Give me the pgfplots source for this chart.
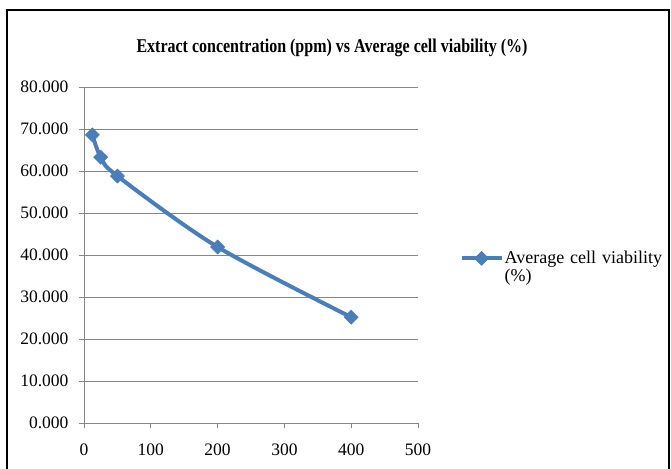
\documentclass[border=0pt]{standalone}
\usepackage{pgfplots}
\pgfplotsset{compat=1.18}
\usepackage{fontspec}
\setmainfont{Liberation Serif}
\newfontfamily\titlefont[FakeStretch=0.82]{Liberation Serif}
\definecolor{xlblue}{RGB}{74,126,187}
\definecolor{gridgray}{RGB}{134,134,134}
\begin{document}
\begin{tikzpicture}[x=1pt,y=1pt]
\useasboundingbox (0pt,0pt) rectangle (671pt,468pt);
\draw[black,line width=2pt] (7pt,-5pt) -- (7pt,458pt) -- (669pt,458pt) -- (669pt,-5pt);
\node[font=\titlefont\bfseries\fontsize{19.5}{21}\selectfont] at (332pt,420pt) {Extract concentration (ppm) vs Average cell viability (\%)};
\begin{axis}[
  at={(84pt,45pt)}, anchor=south west,
  scale only axis, width=334pt, height=336pt,
  xmin=0, xmax=500, ymin=0, ymax=80,
  xtick={0,100,...,500}, ytick={0,10,...,80},
  axis x line=bottom, axis y line=left,
  axis line style={-, gridgray, line width=0.8pt},
  tick style={gridgray, line width=0.8pt},
  tick align=outside, major tick length=5pt,
  ymajorgrids, grid style={gridgray, line width=0.8pt},
  tick label style={font=\fontsize{17.5}{19}\selectfont, black},
  /pgf/number format/assume math mode=true,
  yticklabel style={xshift=-7pt, /pgf/number format/.cd, fixed, fixed zerofill, precision=3, 1000 sep={}},
  xticklabel style={yshift=-12pt, /pgf/number format/.cd, fixed, 1000 sep={}},
  legend style={at={(1.115,0.49)}, anchor=west, draw=none, fill=none,
    font=\fontsize{18}{16}\selectfont, nodes={align=left, text width=170pt, inner sep=1pt}},
  legend image code/.code={\draw[#1, mark repeat=2, mark phase=2] plot coordinates {(0pt,0pt) (20pt,0pt) (40pt,0pt)};},
  clip=false,
]
\addplot[xlblue, line width=4pt, smooth, tension=0.5, mark=square*, mark size=5pt, mark options={solid, rotate=45, line width=0.5pt}]
  coordinates {(12.5,68.6) (25,63.3) (50,58.8) (200,41.9) (400,25.2)};
\addlegendentry{Average cell viability\\(\%)}
\end{axis}
\end{tikzpicture}
\end{document}
